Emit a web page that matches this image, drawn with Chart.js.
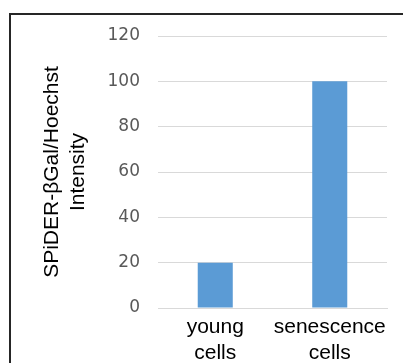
<!DOCTYPE html>
<html>
<head>
<meta charset="utf-8">
<script src="https://cdn.jsdelivr.net/npm/chart.js@4"></script>
<style>
    body { margin: 0; background: #fff; }
    #wrap { position: relative; width: 403px; height: 363px; overflow: hidden; }
    #frame { position: absolute; left: 9px; top: 13px; width: 420px; height: 400px; border-top: 2px solid #262626; border-left: 2px solid #262626; }
    #chart { position: absolute; left: 0; top: 0; }
</style>
</head>
<body>
<div id="wrap">
    <div id="frame"></div>
    <canvas id="chart" width="403" height="363"></canvas>
</div>
<script>
const categories = [['young', 'cells'], ['senescence', 'cells']]
const intensity = [20, 100]
const yTicks = [0, 20, 40, 60, 80, 100, 120]

const canvas = document.querySelector('#chart')

new Chart(canvas.getContext('2d'), {
    type: 'bar',
    data: {
        labels: categories,
        datasets: [{
            label: 'SPiDER-βGal/Hoechst Intensity',
            data: intensity,
            backgroundColor: '#5b9bd5',
            borderWidth: 0,
            categoryPercentage: 1,
            barPercentage: 0.306
        }]
    },
    options: {
        responsive: false,
        animation: false,
        layout: { padding: { top: 36, right: 16, left: 0, bottom: 0 } },
        plugins: { legend: { display: false }, tooltip: { enabled: false } },
        scales: {
            x: {
                grid: { display: false },
                border: { display: true, color: '#d9d9d9' },
                ticks: {
                    color: '#000',
                    padding: -1,
                    autoSkip: false,
                    maxRotation: 0,
                    font: { family: 'Liberation Sans', size: 21, lineHeight: 1.2 }
                },
                afterFit: scale => { scale.height = 55 }
            },
            y: {
                min: 0,
                max: 120,
                afterBuildTicks: scale => { scale.ticks = yTicks.map(v => ({ value: v })) },
                grid: { color: '#d9d9d9', drawTicks: false },
                border: { display: false },
                ticks: {
                    color: '#595959',
                    padding: 18,
                    font: { family: 'DejaVu Sans', size: 17 }
                },
                title: {
                    display: true,
                    text: ['SPiDER-βGal/Hoechst', 'Intensity'],
                    color: '#000',
                    align: 'center',
                    font: { family: 'Liberation Sans', size: 21, lineHeight: 1.2 },
                    padding: { top: 40, bottom: 0 }
                },
                afterFit: scale => { scale.width = 158 }
            }
        }
    }
})
</script>
</body>
</html>
